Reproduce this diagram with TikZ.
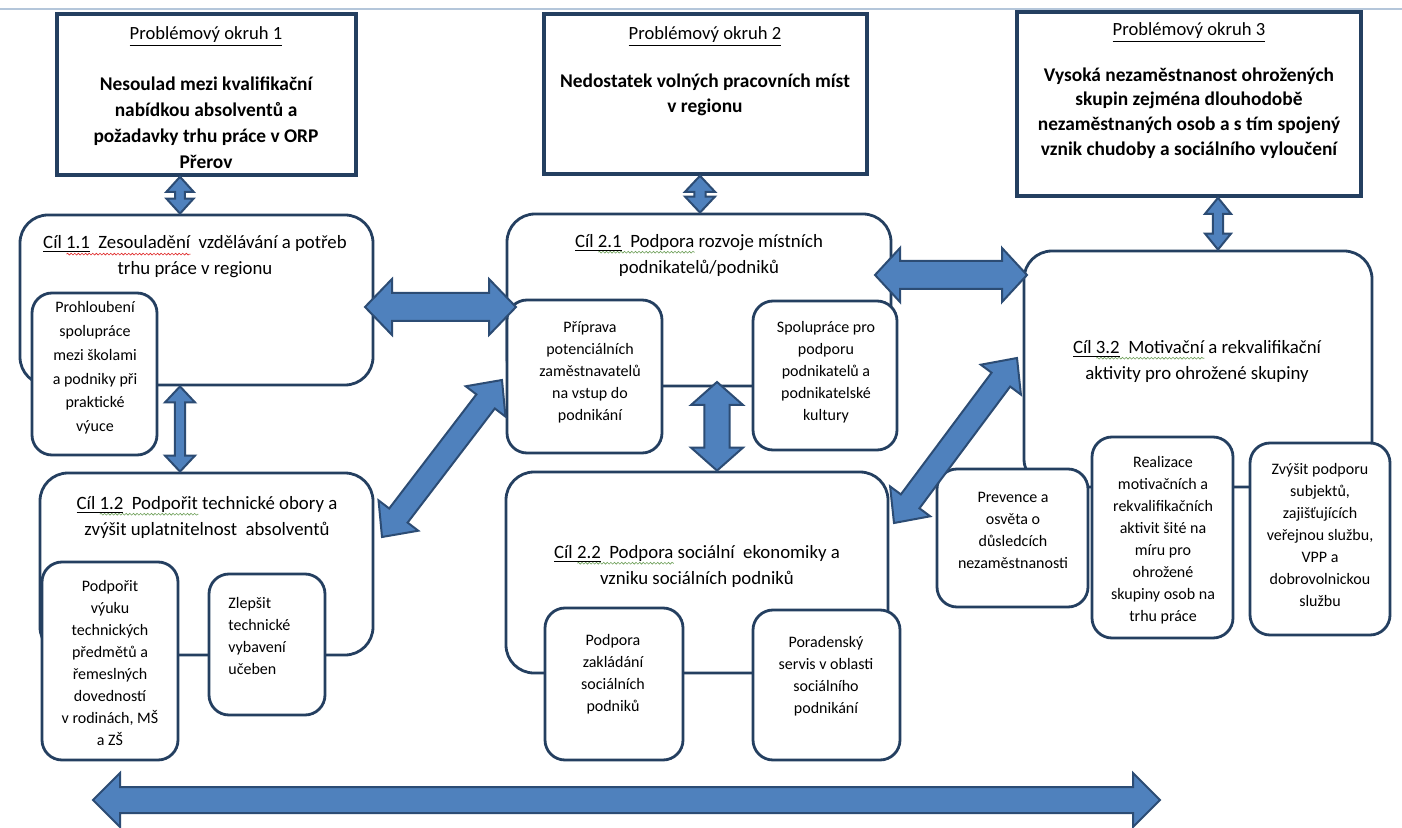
\documentclass[tikz,border=0pt]{standalone}
\usepackage{fontspec}
\setmainfont{Carlito}
\usetikzlibrary{calc,fit,decorations.pathmorphing}
\definecolor{navy}{HTML}{243F60}
\definecolor{afill}{HTML}{4F81BD}
\definecolor{aline}{HTML}{2C4C74}
\definecolor{topline}{HTML}{B4C6DA}
\definecolor{spgreen}{HTML}{6FA05A}
\definecolor{spred}{HTML}{E02828}
\newlength\wvlen
\newcommand\wv[2]{\settowidth\wvlen{#2}\rlap{\tikz[baseline=0pt]\draw[#1,line width=0.3pt,decorate,decoration={snake,amplitude=0.45pt,segment length=1.8pt}](0pt,-2.6pt)--(\wvlen,-2.6pt);}#2}
\newcommand\cil[3]{\rlap{\phantom{Cíl\ }\wv{#3}{\phantom{#1\ \ #2}}}\underline{Cíl #1}\ \ #2}
\newcommand\barr[5]{%
\coordinate (ba-p) at ($(#1)!#3!(#2)$);
\coordinate (ba-q) at ($(#2)!#3!(#1)$);
\draw[barrow] (#1) -- ($(ba-p)!#4!90:(#2)$) -- ($(ba-p)!#5!90:(#2)$) -- ($(ba-q)!#5!-90:(#1)$) -- ($(ba-q)!#4!-90:(#1)$) -- (#2) -- ($(ba-q)!#4!90:(#1)$) -- ($(ba-q)!#5!90:(#1)$) -- ($(ba-p)!#5!-90:(#2)$) -- ($(ba-p)!#4!-90:(#2)$) -- cycle;}
\tikzset{
 pbox/.style={draw=navy, line width=1.8pt, fill=white, inner sep=0pt},
 cbox/.style={draw=navy, line width=1.4pt, rounded corners=14pt, fill=white, inner sep=0pt},
 ibox/.style={draw=navy, line width=1.4pt, rounded corners=10pt, fill=white, inner sep=0pt},
 small/.style={font=\fontsize{8}{11}\selectfont, align=center, inner sep=0pt},
 ttl/.style={font=\fontsize{9.4}{13}\selectfont, align=center, inner sep=0pt},
 ptitle/.style={font=\fontsize{9.3}{12}\selectfont, inner sep=0pt},
 pbody/.style={font=\bfseries\fontsize{9.7}{12.4}\selectfont, align=center, inner sep=0pt},
 barrow/.style={draw=aline, line width=1pt, fill=afill, line join=miter},
}
\begin{document}
\begin{tikzpicture}[x=0.5pt,y=-0.5pt]
\useasboundingbox (0,0) rectangle (1402,828);
\fill[white] (0,0) rectangle (1402,828);
\draw[topline, line width=0.8pt] (0,9) -- (1402,9);

% problem boxes
\node[pbox, fit={(57,14) (356,175)}] (pb1) {};
\node[ptitle] at (206,37) {\underline{Problémový okruh 1}};
\node[pbody, font=\bfseries\fontsize{9.7}{13}\selectfont] at (206,123) {Nesoulad mezi kvalifikační\\nabídkou absolventů a\\požadavky trhu práce v ORP\\Přerov};
\node[pbox, fit={(544,14) (867,174)}] (pb2) {};
\node[ptitle] at (705,37) {\underline{Problémový okruh 2}};
\node[pbody] at (705,95) {Nedostatek volných pracovních míst\\v regionu};
\node[pbox, fit={(1017,12) (1361,196)}] (pb3) {};
\node[ptitle] at (1189,33) {\underline{Problémový okruh 3}};
\node[pbody] at (1189,113) {Vysoká nezaměstnanost ohrožených\\skupin zejména dlouhodobě\\nezaměstnaných osob a s tím spojený\\vznik chudoby a sociálního vyloučení};

% goal 1.1
\node[cbox, fit={(20,215) (373,385)}] (c11) {};
\node[ttl] at (195,257) {\cil{1.1}{Zesouladění}{spred}\ \ vzdělávání a potřeb\\trhu práce v regionu};
\node[ibox, fit={(32,293) (157,455)}] (i11) {};
\node[small, font=\fontsize{8}{11.9}\selectfont] at (95,368) {Prohloubení\\spolupráce\\mezi školami\\a podniky při\\praktické\\výuce};

% goal 1.2
\node[cbox, fit={(40,473) (373,655)}] (c12) {};
\node[ttl] at (207,517) {\cil{1.2}{Podpořit}{spgreen} technické obory a\\zvýšit uplatnitelnost\ \ absolventů};
\node[ibox, fit={(42,562) (178,760)}] (i12a) {};
\node[small] at (110,663) {Podpořit\\výuku\\technických\\předmětů a\\řemeslných\\dovedností\\v rodinách, MŠ\\a ZŠ};
\node[ibox, fit={(209,574) (325,715)}] (i12b) {};
\node[small, align=left, anchor=west] at (228,636) {Zlepšit\\technické\\vybavení\\učeben};

% goal 2.1
\node[cbox, fit={(507,214) (891,386)}] (c21) {};
\node[ttl] at (699,255) {\cil{2.1}{Podpora}{spgreen} rozvoje místních\\podnikatelů/podniků};
\node[ibox, fit={(507,300) (662,453)}] (i21a) {};
\node[small] at (590,372) {Příprava\\potenciálních\\zaměstnavatelů\\na vstup do\\podnikání};
\node[ibox, fit={(753,301) (897,450)}] (i21b) {};
\node[small] at (826,372) {Spolupráce pro\\podporu\\podnikatelů a\\podnikatelské\\kultury};

% goal 2.2
\node[cbox, fit={(506,472) (888,673)}] (c22) {};
\node[ttl] at (697,566) {\cil{2.2}{Podpora}{spgreen} sociální\ \ ekonomiky a\\vzniku sociálních podniků};
\node[ibox, fit={(545,608) (683,760)}] (i22a) {};
\node[small] at (613,674) {Podpora\\zakládání\\sociálních\\podniků};
\node[ibox, fit={(753,610) (900,760)}] (i22b) {};
\node[small] at (826,676) {Poradenský\\servis v oblasti\\sociálního\\podnikání};

% goal 3.2
\node[cbox, fit={(1024,251) (1372,487)}] (c32) {};
\node[ttl] at (1197,361) {\cil{3.2}{Motivační}{spgreen} a rekvalifikační\\aktivity pro ohrožené skupiny};
\node[ibox, fit={(937,469) (1088,607)}] (i32a) {};
\node[small] at (1013,530) {Prevence a\\osvěta o\\důsledcích\\nezaměstnanosti};
\node[ibox, fit={(1092,437) (1233,638)}] (i32b) {};
\node[small] at (1163,540) {Realizace\\motivačních a\\rekvalifikačních\\aktivit šité na\\míru pro\\ohrožené\\skupiny osob na\\trhu práce};
\node[ibox, fit={(1250,443) (1390,635)}] (i32c) {};
\node[small] at (1320,535) {Zvýšit podporu\\subjektů,\\zajišťujících\\veřejnou službu,\\VPP a\\dobrovolnickou\\službu};

% arrow end points
\coordinate (v1a) at (180,0 |- pb1.south);
\coordinate (v1b) at (180,0 |- c11.north);
\coordinate (v2a) at (700,0 |- pb2.south);
\coordinate (v2b) at (700,0 |- c21.north);
\coordinate (v3a) at (1218,0 |- pb3.south);
\coordinate (v3b) at (1218,0 |- c32.north);
\coordinate (v4a) at (180,0 |- c11.south);
\coordinate (v4b) at (180,0 |- c12.north);
\coordinate (h1a) at (365,307);
\coordinate (h1b) at (516,307);
\coordinate (h2a) at (875,275);
\coordinate (h2b) at (1027,275);
\coordinate (v5a) at (717,382);
\coordinate (v5b) at (717,0 |- c22.north);
\coordinate (d1a) at (382,537);
\coordinate (d1b) at (502,380);
\coordinate (d2a) at (894,523);
\coordinate (d2b) at (1017,358);
\coordinate (bta) at (93,800);
\coordinate (btb) at (1160,800);

\barr{v1a}{v1b}{7.5pt}{6.8pt}{2.4pt}
\barr{v2a}{v2b}{8pt}{7.5pt}{2.8pt}
\barr{v3a}{v3b}{8pt}{6.5pt}{2.6pt}
\barr{v4a}{v4b}{8pt}{7.5pt}{2.6pt}
\barr{h1a}{h1b}{13.5pt}{14pt}{7pt}
\barr{h2a}{h2b}{12.5pt}{13.5pt}{7pt}
\barr{v5a}{v5b}{11.5pt}{13pt}{6.3pt}
\barr{d1a}{d1b}{13.5pt}{12.5pt}{5.8pt}
\barr{d2a}{d2b}{13.5pt}{12.5pt}{5.8pt}
\barr{bta}{btb}{13.5pt}{13.5pt}{6.5pt}
\end{tikzpicture}
\end{document}
